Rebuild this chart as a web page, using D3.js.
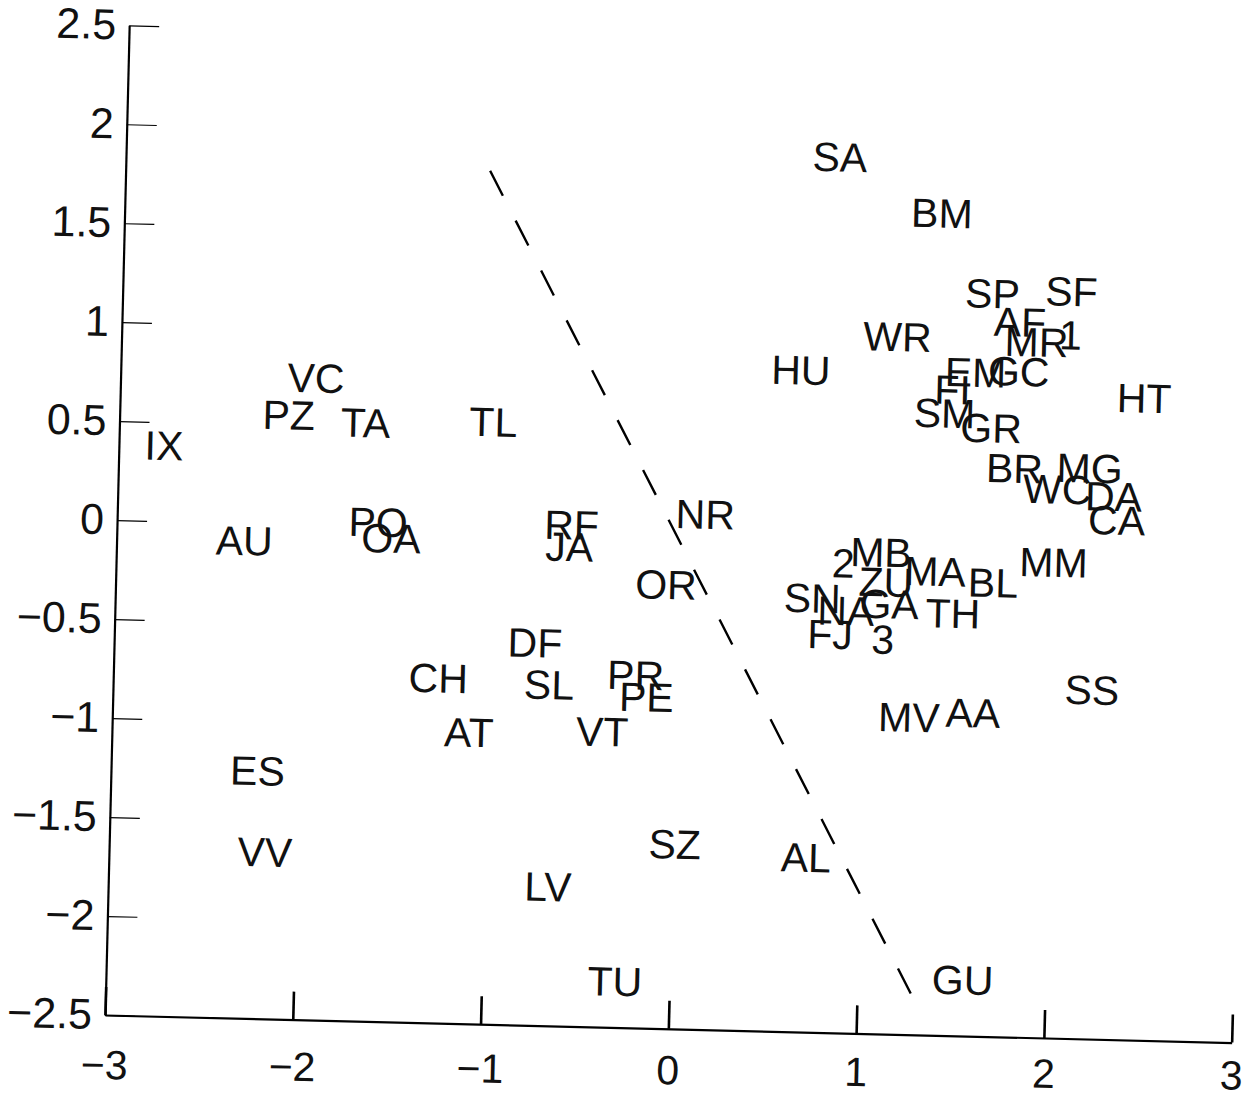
<!DOCTYPE html>
<html>
<head>
<meta charset="utf-8">
<script src="https://cdn.jsdelivr.net/npm/d3@7"></script>
<style>
  html, body { margin: 0; padding: 0; background: #fff; }
  svg text { font-family: "Liberation Sans Narrow", "Arial Narrow", "Liberation Sans", sans-serif; fill: #111; }
</style>
</head>
<body>
<svg id="chart" width="1247" height="1100"></svg>
<script>
// ---- Data ----
const labels = ["SA","BM","SP","SF","AF","MR","1","WR","HU","EM","GC","FI","SM","GR","HT","BR","MG","WC","DA","CA",
  "MM","2","MB","ZU","MA","BL","SN","NA","GA","TH","FJ","3","SS","MV","AA","SZ","AL","LV","TU","GU",
  "IX","PZ","TA","VC","TL","AU","PO","OA","RF","JA","NR","OR","DF","CH","SL","PR","PE","AT","VT","ES","VV"];
const xValues = [0.80,1.35,1.63,2.05,1.78,1.87,2.05,1.13,0.62,1.55,1.78,1.43,1.39,1.64,2.45,1.77,2.17,2.00,2.30,2.32,
  1.99,0.87,1.07,1.10,1.36,1.67,0.71,0.89,1.12,1.46,0.81,1.09,2.21,1.24,1.58,0.01,0.71,-0.66,-0.29,1.56,
  -2.76,-2.10,-1.69,-1.96,-1.01,-2.32,-1.61,-1.54,-0.58,-0.59,0.13,-0.07,-0.76,-1.27,-0.68,-0.22,-0.16,-1.10,-0.39,-2.22,-2.17];
const yValues = [1.92,1.65,1.25,1.27,1.11,1.01,1.05,1.02,0.84,0.85,0.86,0.76,0.64,0.57,0.74,0.37,0.38,0.27,0.24,0.12,
  -0.10,-0.13,-0.07,-0.22,-0.16,-0.21,-0.31,-0.37,-0.33,-0.37,-0.49,-0.51,-0.74,-0.90,-0.87,-1.57,-1.62,-1.80,-2.27,-2.22,
  0.38,0.55,0.52,0.74,0.54,-0.09,0.02,-0.06,0.03,-0.08,0.10,-0.26,-0.57,-0.76,-0.78,-0.72,-0.83,-1.03,-1.01,-1.25,-1.66];
const lineX = [-1.06, 1.29];
const lineY = [1.81, -2.30];
const xTicks = [-3,-2,-1,0,1,2,3];
const yTicks = [-2.5,-2,-1.5,-1,-0.5,0,0.5,1,1.5,2,2.5];

// ---- Chart ----
const svg = d3.select("#chart");
svg.append("rect").attr("width",1247).attr("height",1100).attr("fill","#fff");

const ox = 105, oy = 1015;
const x = d3.scaleLinear().domain([-3,3]).range([ox, ox + 1127]);
const y = d3.scaleLinear().domain([-2.5,2.5]).range([oy, oy - 990]);

const g = svg.append("g").attr("transform", `rotate(1.4, ${ox}, ${oy})`);

const fmt = d => d3.format("")(d).replace("-", "\u2212");

const yAxis = d3.axisLeft(y).tickValues(yTicks).tickFormat(fmt)
  .tickSizeInner(-30).tickSizeOuter(0).tickPadding(13);
const ya = g.append("g").attr("transform", `translate(${ox},0)`).call(yAxis);
ya.select(".domain").attr("stroke","#000").attr("stroke-width",2.2);
ya.selectAll(".tick line").attr("stroke","#000").attr("stroke-width",1.2);
ya.selectAll(".tick text").attr("font-size",43).attr("font-family",null);

const xAxis = d3.axisBottom(x).tickValues(xTicks).tickFormat(fmt)
  .tickSizeInner(-28).tickSizeOuter(0).tickPadding(35);
const xa = g.append("g").attr("transform", `translate(0,${oy})`).call(xAxis);
xa.select(".domain").attr("stroke","#000").attr("stroke-width",2.2);
xa.selectAll(".tick line").attr("stroke","#000").attr("stroke-width",2.6);
// the scanned labels drift down less than the axis line does
xa.selectAll(".tick text").attr("font-size",41).attr("font-family",null)
  .attr("y", d => 35 - 17 * (x(d) - ox) / 1127);

// dashed separating line
g.append("line")
  .attr("x1", x(lineX[0])).attr("y1", y(lineY[0]))
  .attr("x2", x(lineX[1])).attr("y2", y(lineY[1]))
  .attr("stroke","#000").attr("stroke-width",2.4)
  .attr("stroke-dasharray","28 28");

// point labels
const pts = labels.map((l,i) => ({label:l, x:xValues[i], y:yValues[i]}));
g.append("g").selectAll("text").data(pts).join("text")
  .attr("x", d => x(d.x)).attr("y", d => y(d.y))
  .attr("text-anchor","middle").attr("dominant-baseline","central")
  .attr("font-size",41)
  .text(d => d.label);
</script>
</body>
</html>
